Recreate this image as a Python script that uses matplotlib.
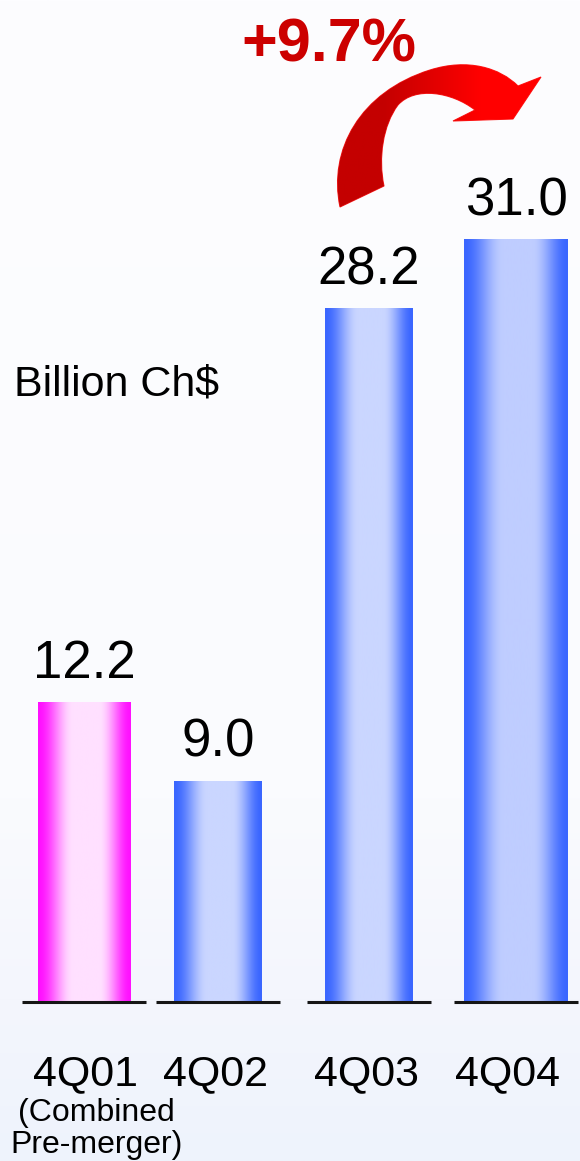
import numpy as np
import matplotlib
matplotlib.use("Agg")
import matplotlib.pyplot as plt
from matplotlib.path import Path
from matplotlib.patches import PathPatch
from matplotlib.colors import to_rgb

plt.rcParams['font.family'] = ['Liberation Sans', 'DejaVu Sans']

# ---- data ----
quarters = ["4Q01", "4Q02", "4Q03", "4Q04"]
values = [12.2, 9.0, 28.2, 31.0]
value_labels = ["12.2", "9.0", "28.2", "31.0"]
growth_label = "+9.7%"
unit_label = "Billion Ch$"
note_lines = ["(Combined", "Pre-merger)"]

# ---- layout ----
W, H = 580, 1161
PX_X = 144.0            # pixels per category step
PX_Y = 24.6             # pixels per billion
BASE_PX = 1002          # baseline row (pixels from top)
LEFT_PX = 84            # centre of the first bar
slots = np.array([0.0, 0.93, 1.98, 3.0])
widths = [0.64, 0.61, 0.61, 0.72]
label_shift = [0.01, -0.02, -0.02, -0.06]
edge_cols = ["#ff10ff", "#3a66ff", "#3a66ff", "#3a66ff"]
mid_cols = ["#ffe0ff", "#cad6ff", "#cad6ff", "#bfcdff"]

fig = plt.figure(figsize=(W / 100, H / 100), dpi=100)

# background wash
bg = fig.add_axes([0, 0, 1, 1], zorder=0)
bg.set_axis_off()
ys = np.linspace(0, H, 400)
stops_y = [0, 800, 1000, H]
stops_c = [to_rgb("#fdfdff"), to_rgb("#fafbfe"), to_rgb("#f4f6fd"), to_rgb("#eef3fc")]
grad = np.stack([np.interp(ys, stops_y, [c[i] for c in stops_c]) for i in range(3)], axis=-1)
bg.imshow(grad[:, None, :], extent=(0, W, H, 0), aspect="auto")
bg.set_xlim(0, W)
bg.set_ylim(H, 0)

# bar axes
ax = fig.add_axes([0, 0, 1, 1], zorder=1)
ax.patch.set_alpha(0)
ax.set_axis_off()

bars = ax.bar(slots, values, width=widths, color="none", edgecolor="none")

u = np.linspace(0, 1, 200)
light = np.clip(np.minimum(u / 0.38, (1 - u) / 0.34), 0, 1)
light = light * light * (3 - 2 * light)
for bar, ec, mc in zip(bars, edge_cols, mid_cols):
    e, m = np.array(to_rgb(ec)), np.array(to_rgb(mc))
    row = e[None, :] + (m - e)[None, :] * light[:, None]
    x0, w, h = bar.get_x(), bar.get_width(), bar.get_height()
    im = ax.imshow(row[None, :, :], extent=(x0, x0 + w, 0, h), aspect="auto", zorder=2)
    im.set_clip_path(bar)

ax.set_xlim(-LEFT_PX / PX_X, (W - LEFT_PX) / PX_X)
ax.set_ylim(-(H - BASE_PX) / PX_Y, BASE_PX / PX_Y)

# baseline stubs under each bar
for s in slots:
    ax.plot([s - 0.43, s + 0.43], [0, 0], color="#151515", lw=2.2,
            solid_capstyle="butt", zorder=3)

# value labels above bars
for bar, lab in zip(bars, value_labels):
    ax.annotate(lab, (bar.get_x() + bar.get_width() / 2, bar.get_height()),
                xytext=(0, 17), textcoords="offset points",
                ha="center", va="baseline", fontsize=38, color="black", zorder=4)

# category labels
for s, d, q in zip(slots, label_shift, quarters):
    ax.text(s + d, -(1085 - BASE_PX) / PX_Y, q, ha="center", va="baseline",
            fontsize=31, color="black")

# overlay in pixel coordinates for arrow and free text
ov = fig.add_axes([0, 0, 1, 1], zorder=2)
ov.patch.set_alpha(0)
ov.set_axis_off()

ov.text(96, 1121, note_lines[0], ha="center", va="baseline", fontsize=23)
ov.text(97, 1153, note_lines[1], ha="center", va="baseline", fontsize=23)
ov.text(14, 396, unit_label, ha="left", va="baseline", fontsize=31)
ov.text(241, 62, growth_label, ha="left", va="baseline", fontsize=44,
        fontweight="bold", color="#cc0000")

verts = [
    (340, 207),
    (328, 150), (360, 92), (430, 70),
    (468, 58), (500, 68), (518, 86),
    (541, 77),
    (513, 119),
    (453, 121),
    (475, 110),
    (452, 92), (415, 86), (398, 105),
    (383, 125), (378, 158), (384, 186),
    (340, 207),
]
codes = ([Path.MOVETO] + [Path.CURVE4] * 6 + [Path.LINETO] * 4
         + [Path.CURVE4] * 6 + [Path.CLOSEPOLY])
arrow = PathPatch(Path(verts, codes), facecolor="none", edgecolor="#ff2020", lw=0.8)
ov.add_patch(arrow)
ax_grad = np.linspace(0, 1, 200)
c0, c1 = np.array(to_rgb("#c40000")), np.array(to_rgb("#ff0000"))
arow = c0[None, :] + (c1 - c0)[None, :] * np.clip((ax_grad - 0.25) / 0.45, 0, 1)[:, None]
aim = ov.imshow(arow[None, :, :], extent=(330, 545, 210, 55), aspect="auto", zorder=1)
aim.set_clip_path(arrow)
ov.set_xlim(0, W)
ov.set_ylim(H, 0)

fig.savefig("out.png", dpi=100)
